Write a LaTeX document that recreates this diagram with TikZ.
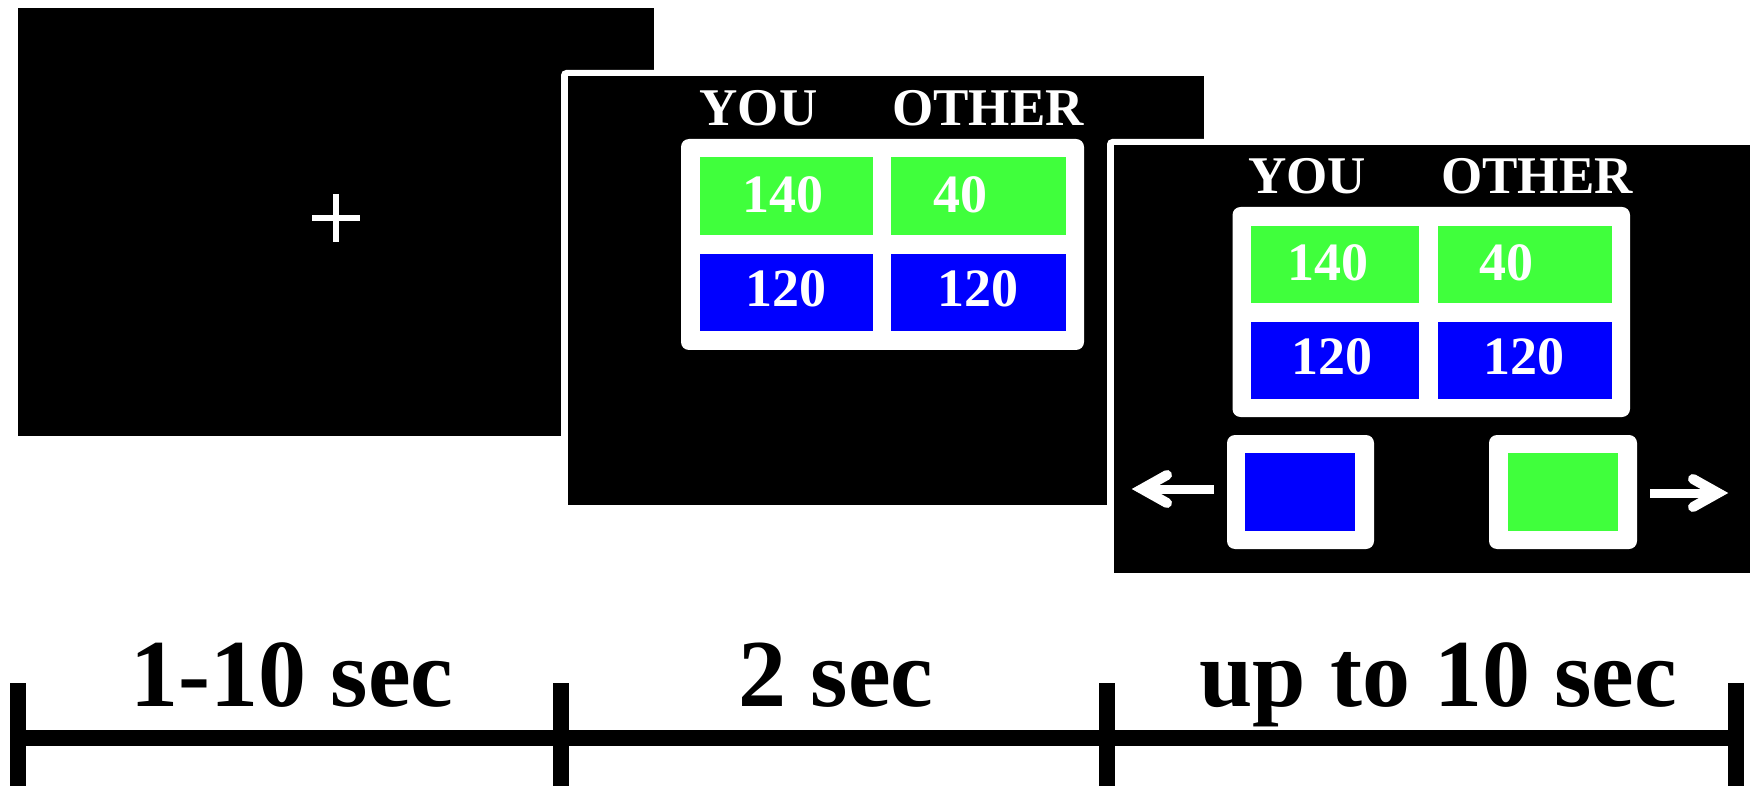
\documentclass[tikz,border=0pt]{standalone}
\usepackage{fontspec}
\setmainfont{Liberation Serif}
\definecolor{cgreen}{HTML}{40FF3C}
\definecolor{cblue}{HTML}{0000FF}
\newcommand\headfnt{\fontsize{53}{53}\selectfont\bfseries}
\newcommand\numfnt{\fontsize{54}{54}\selectfont\bfseries}
\newcommand\labfnt{\fontsize{96}{96}\selectfont\bfseries}
\tikzset{
  scr/.style={fill=black},
  scrframe/.style={fill=white, rounded corners=5pt},
  panel/.style={fill=white, rounded corners=8pt},
  head/.style={text=white, font=\headfnt, anchor=base, inner sep=0pt},
  num/.style={text=white, font=\numfnt, anchor=base, inner sep=0pt},
  lab/.style={text=black, font=\labfnt, anchor=base, inner sep=0pt},
  tline/.style={line width=16pt, black},
  arr/.style={white, line width=10pt, line cap=round, line join=miter},
  shaft/.style={white, line width=9pt}
}
\begin{document}
\begin{tikzpicture}[x=1pt, y=-1pt]
\useasboundingbox (0,0) rectangle (1757,786);
% ---- screen 1 (fixation)
\fill[scr] (18,8) rectangle (654,436);
\draw[white, line width=6.5pt] (312,218) -- (360,218);
\draw[white, line width=6.5pt] (336,194) -- (336,242);
% ---- screen 2 (offer)
\fill[scrframe] (561,70) rectangle (1210.5,512);
\fill[scr] (568,76) rectangle (1203.5,505);
\node[head] (you2) at (758.5,126) {YOU};
\node[head] (oth2) at (988,126) {OTHER};
\fill[panel] (681,139) rectangle (1084,350);
\fill[cgreen] (699.5,157) rectangle (872.5,235);
\fill[cgreen] (891,157) rectangle (1066,235);
\fill[cblue] (699.5,254) rectangle (872.5,331);
\fill[cblue] (891,254) rectangle (1066,331);
\node[num] (a2) at (782.5,213) {140};
\node[num] (b2) at (960,213) {40};
\node[num] (c2) at (785.5,307) {120};
\node[num] (d2) at (977.5,307) {120};
% ---- screen 3 (choice)
\fill[scrframe] (1107,139) rectangle (1757,580);
\fill[scr] (1114,145) rectangle (1750,573);
\node[head] (you3) at (1307,194) {YOU};
\node[head] (oth3) at (1537,194) {OTHER};
\fill[panel] (1232.5,207) rectangle (1630,417);
\fill[cgreen] (1251,226) rectangle (1418.5,303);
\fill[cgreen] (1437.5,226) rectangle (1612,303);
\fill[cblue] (1251,322) rectangle (1418.5,399);
\fill[cblue] (1437.5,322) rectangle (1612,399);
\node[num] (a3) at (1328,281) {140};
\node[num] (b3) at (1506.5,281) {40};
\node[num] (c3) at (1331.5,374) {120};
\node[num] (d3) at (1524,374) {120};
% buttons
\fill[panel] (1227,435) rectangle (1374,549);
\fill[cblue] (1245,453) rectangle (1355,531);
\fill[panel] (1489,435) rectangle (1637,549);
\fill[cgreen] (1508,453) rectangle (1618,531);
% arrows
\draw[shaft] (1214,489) -- (1145,489);
\draw[arr] (1167,475) -- (1142,489) -- (1167,503);
\draw[shaft] (1650,493) -- (1712,493);
\draw[arr] (1693,479) -- (1718,493) -- (1693,507);
% ---- timeline
\coordinate (t0) at (18,738);
\coordinate (t1) at (561,738);
\coordinate (t2) at (1107,738);
\coordinate (t3) at (1735.5,738);
\draw[tline] (10,738) -- (1743.5,738);
\draw[tline] (18,683) -- (18,786);
\draw[tline] (561,683) -- (561,786);
\draw[tline] (1107,683) -- (1107,786);
\draw[tline] (1735.5,683) -- (1735.5,786);
\node[lab] (l1) at (292,706) {1-10 sec};
\node[lab] (l2) at (836,706) {2 sec};
\node[lab] (l3) at (1438,706) {up to 10 sec};
\end{tikzpicture}
\end{document}
